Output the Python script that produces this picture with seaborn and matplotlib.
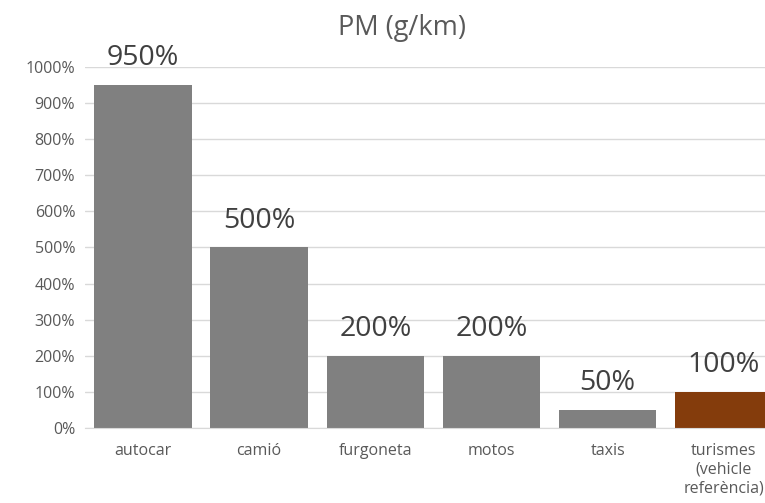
import matplotlib
matplotlib.use("Agg")
import matplotlib.pyplot as plt
import seaborn as sns
import pandas as pd
from matplotlib.ticker import FuncFormatter

# data
categories = ["autocar", "camió", "furgoneta", "motos", "taxis", "turismes\n(vehicle\nreferència)"]
values = [950, 500, 200, 200, 50, 100]
bar_colors = ["#808080", "#808080", "#808080", "#808080", "#808080", "#843C0C"]
yticks = [0, 100, 200, 300, 400, 500, 600, 700, 800, 900, 1000]

df = pd.DataFrame({"cat": categories, "val": values})

sns.set_style("white")
plt.rcParams["font.family"] = ["Open Sans", "DejaVu Sans"]

fig = plt.figure(figsize=(7.65, 5.03), dpi=100)
ax = fig.add_axes([0.111, 0.149, 0.911, 0.718])

sns.barplot(data=df, x="cat", y="val", hue="cat",
            palette=dict(zip(categories, bar_colors)),
            legend=False, width=0.84, saturation=1, linewidth=0, ax=ax)

for cont, v in zip(ax.containers, values):
    ax.bar_label(cont, labels=[f"{v}%"], padding=9, fontsize=20.5, color="#404040")

ax.set_ylim(0, 1000)
ax.set_yticks(yticks)
ax.yaxis.set_major_formatter(FuncFormatter(lambda v, p: f"{int(v)}%"))
ax.grid(axis="y", color="#D9D9D9", linewidth=1)
ax.set_axisbelow(True)
ax.set_xlabel("")
ax.set_ylabel("")
for s in ["top", "right", "left"]:
    ax.spines[s].set_visible(False)
ax.spines["bottom"].set_color("#D9D9D9")
ax.tick_params(axis="y", length=0, labelsize=11.5, colors="#595959", pad=7)
ax.tick_params(axis="x", length=0, labelsize=11.5, colors="#595959", pad=11)

fig.text(0.525, 0.945, "PM (g/km)", ha="center", va="center", fontsize=19.5, color="#595959")

fig.savefig("out.png", dpi=100)
